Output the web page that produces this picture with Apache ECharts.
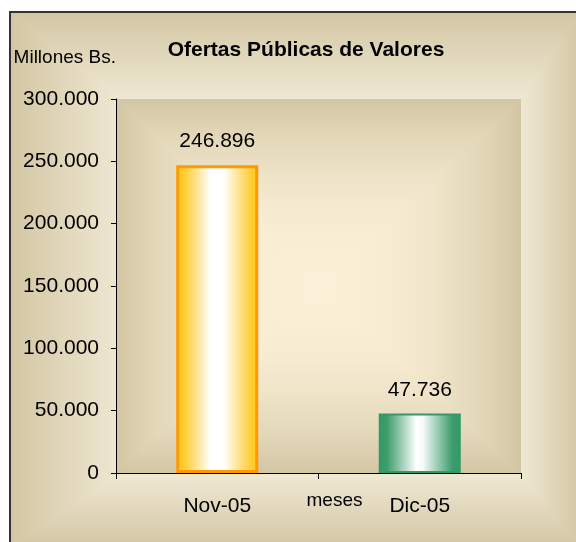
<!DOCTYPE html>
<html>
<head>
<meta charset="utf-8">
<script src="https://cdn.jsdelivr.net/npm/echarts@6/dist/echarts.min.js"></script>
<style>
html,body{margin:0;padding:0;background:#fff;}
#chart{width:576px;height:542px;}
</style>
</head>
<body>
<div id="chart"></div>
<script>
// ---- data ----
const categories = ['Nov-05', 'Dic-05'];
const values = [246896, 47736];
const yTicks = [0, 50000, 100000, 150000, 200000, 250000, 300000];
const titleText = 'Ofertas Públicas de Valores';
const yAxisName = 'Millones Bs.';
const xAxisName = 'meses';

// ---- styles ----
const FONT = '"Liberation Sans", Arial, sans-serif';
const barStyles = [
  {
    color: { type: 'linear', x: 0, y: 0, x2: 1, y2: 0, colorStops: [
      { offset: 0, color: '#FFC61F' }, { offset: 0.1, color: '#FFCC33' },
      { offset: 0.42, color: '#FFFFFF' }, { offset: 0.58, color: '#FFFFFF' },
      { offset: 0.92, color: '#FFCC33' }, { offset: 1, color: '#FFC61F' }] },
    borderColor: '#FF9900', borderWidth: 3
  },
  {
    color: { type: 'linear', x: 0, y: 0, x2: 1, y2: 0, colorStops: [
      { offset: 0, color: '#339966' }, { offset: 0.1, color: '#3D9C6B' },
      { offset: 0.46, color: '#FFFFFF' }, { offset: 0.54, color: '#F6FAF8' },
      { offset: 0.9, color: '#3D9C6B' }, { offset: 1, color: '#339966' }] },
    borderColor: '#339966', borderWidth: 2
  }
];

const grid = { left: 116, top: 99, right: 55, bottom: 69 };
const W = 576, H = 542;
const plotX = grid.left, plotY = grid.top;
const plotW = W - grid.left - grid.right, plotH = H - grid.top - grid.bottom;

function fmt(v) {
  return String(v).replace(/\B(?=(\d{3})+(?!\d))/g, '.');
}
function hGrad(stops) {
  return { type: 'linear', x: 0, y: 0, x2: 1, y2: 0, colorStops: stops };
}
function vGrad(stops) {
  return { type: 'linear', x: 0, y: 0, x2: 0, y2: 1, colorStops: stops };
}
function mirror(half) {
  // half: stops from edge (0) to centre (0.5)
  const out = half.slice();
  for (let i = half.length - 2; i >= 0; i--) out.push({ offset: 1 - half[i].offset, color: half[i].color });
  return out;
}

const outerDark = '#D3C6A3', outerLight = '#EEE7D2';
const outerStopsH = [{ offset: 0, color: outerDark }, { offset: 0.19, color: outerLight },
  { offset: 0.9, color: outerLight }, { offset: 1, color: outerDark }];
const outerStopsV = [{ offset: 0, color: outerDark }, { offset: 0.16, color: outerLight },
  { offset: 0.87, color: outerLight }, { offset: 1, color: outerDark }];
const plotStops = mirror([
  { offset: 0, color: '#D3C6A4' }, { offset: 0.1, color: '#E3D7B9' },
  { offset: 0.2, color: '#EEE2C7' }, { offset: 0.3, color: '#F6EAD0' },
  { offset: 0.4, color: '#FAEED5' }, { offset: 0.5, color: '#FDF0D8' }
]);

const chart = echarts.init(document.getElementById('chart'), null, { renderer: 'canvas' });
chart.setOption({
  animation: false,
  backgroundColor: '#ffffff',
  graphic: [
    { type: 'rect', z: -20, shape: { x: 10, y: 12, width: 570, height: 534 },
      style: { fill: hGrad(outerStopsH) } },
    { type: 'rect', z: -19, shape: { x: 10, y: 12, width: 570, height: 534 },
      style: { fill: vGrad(outerStopsV), blend: 'darken' } },
    { type: 'rect', z: -18, shape: { x: 10, y: 12, width: 570, height: 534 },
      style: { fill: 'none', stroke: '#333333', lineWidth: 2 } },
    { type: 'rect', z: -17, shape: { x: plotX, y: plotY, width: plotW, height: plotH },
      style: { fill: hGrad(plotStops) } },
    { type: 'rect', z: -16, shape: { x: plotX, y: plotY, width: plotW, height: plotH },
      style: { fill: vGrad(plotStops), blend: 'darken' } }
  ],
  title: {
    text: titleText,
    left: 306, top: 40, textAlign: 'center', padding: 0,
    textStyle: { fontFamily: FONT, fontSize: 21, fontWeight: 'bold', color: '#000' }
  },
  grid: grid,
  xAxis: {
    type: 'category',
    data: categories,
    name: xAxisName,
    nameLocation: 'middle',
    nameGap: 18,
    nameMoveOverlap: false,
    nameTextStyle: { fontFamily: FONT, fontSize: 19, color: '#000', padding: [0, 0, 0, 32] },
    axisLine: { lineStyle: { color: '#000', width: 1 } },
    axisTick: { show: true, length: 6, lineStyle: { color: '#000' } },
    axisLabel: { fontFamily: FONT, fontSize: 21, color: '#000', margin: 23 },
    splitLine: { show: false }
  },
  yAxis: {
    type: 'value',
    min: yTicks[0], max: yTicks[yTicks.length - 1], interval: yTicks[1] - yTicks[0],
    name: yAxisName,
    nameLocation: 'end',
    nameGap: 32,
    nameTextStyle: { fontFamily: FONT, fontSize: 19, color: '#000', align: 'right' },
    axisLine: { show: true, lineStyle: { color: '#000', width: 1 } },
    axisTick: { show: true, length: 5, lineStyle: { color: '#000' } },
    axisLabel: { fontFamily: FONT, fontSize: 21, color: '#000', margin: 17, formatter: fmt },
    splitLine: { show: false }
  },
  series: [{
    type: 'bar',
    barWidth: '40.5%',
    data: values.map((v, i) => ({ value: v, itemStyle: barStyles[i] })),
    label: {
      show: true, position: 'top', distance: 13,
      fontFamily: FONT, fontSize: 21, color: '#000',
      formatter: p => fmt(p.value)
    }
  }]
});
</script>
</body>
</html>
